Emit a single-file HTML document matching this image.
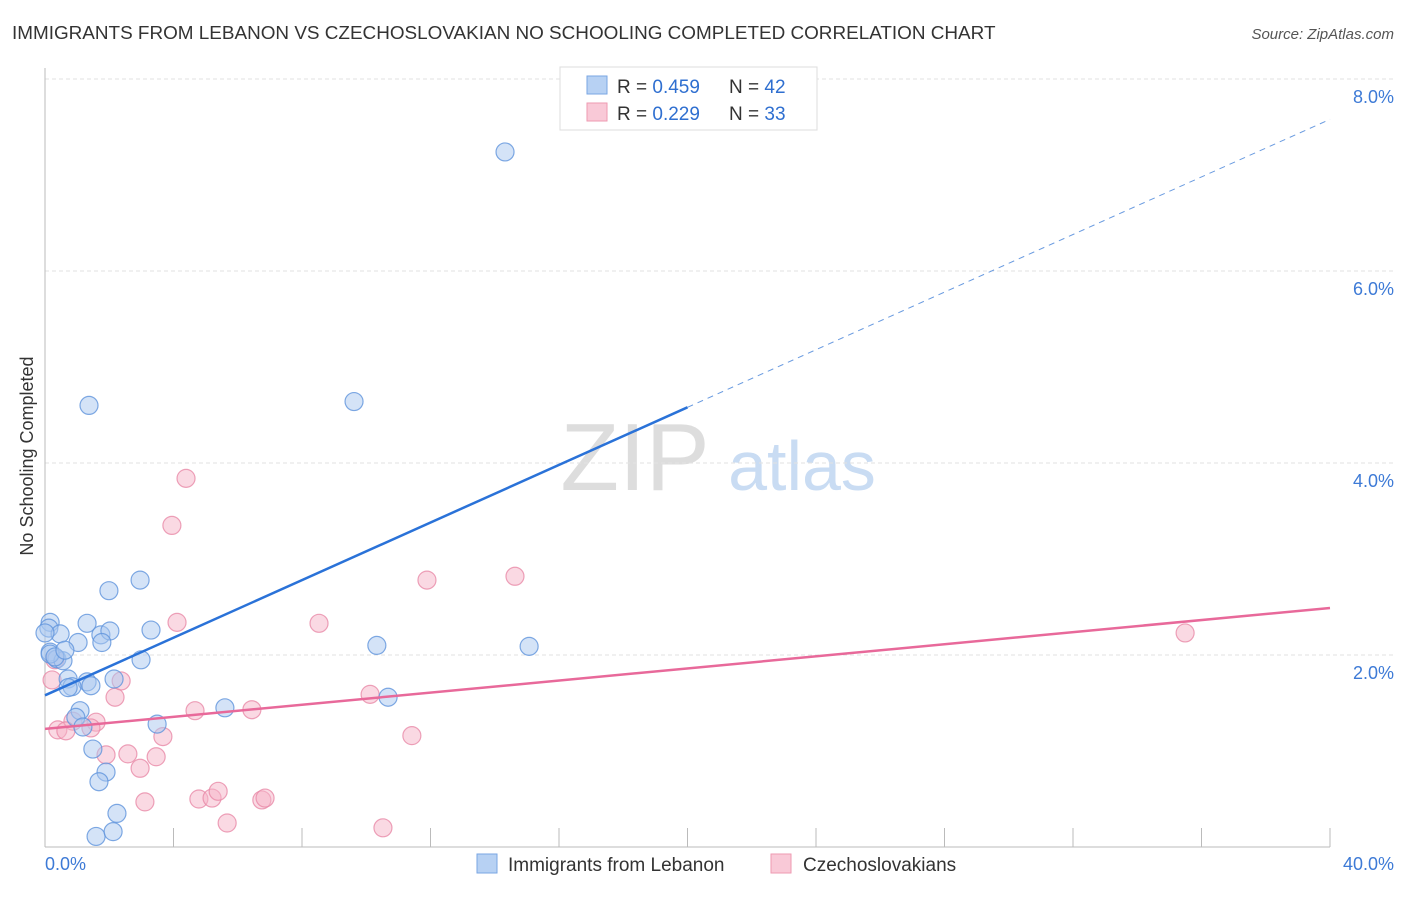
<!DOCTYPE html>
<html><head><meta charset="utf-8"><style>
body{margin:0;background:#fff;font-family:"Liberation Sans",sans-serif;}
svg text{font-family:"Liberation Sans",sans-serif;}
</style></head><body>
<svg id="chart" width="1406" height="892">
<text x="12" y="39" font-size="18.9" fill="#333">IMMIGRANTS FROM LEBANON VS CZECHOSLOVAKIAN NO SCHOOLING COMPLETED CORRELATION CHART</text>
<text x="1394" y="39" font-size="15" fill="#555" font-style="italic" text-anchor="end">Source: ZipAtlas.com</text>
<text x="635" y="490" font-size="96" fill="#ddd" font-family="Liberation Serif" text-anchor="middle">ZIP</text>
<text x="802" y="490" font-size="70" fill="#c9dcf3" text-anchor="middle">atlas</text>
<g id="grid"></g>
<line x1="45" y1="68" x2="45" y2="847" stroke="#bbb"/>
<line x1="45" y1="847" x2="1330" y2="847" stroke="#bbb"/>
<text x="33" y="456" font-size="18" fill="#333" text-anchor="middle" transform="rotate(-90 33 456)">No Schooling Completed</text>
<text x="45" y="870" font-size="18" fill="#3d7ad6">0.0%</text>
<text x="1394" y="870" font-size="18" fill="#3d7ad6" text-anchor="end">40.0%</text>
<g id="marks"></g>
<g>
<rect x="560" y="67" width="257" height="63" fill="#fff" stroke="#ddd"/>
<rect x="587" y="76" width="20" height="18" fill="#b7d1f3" stroke="#7aa6e3"/>
<text x="617" y="93" font-size="19" fill="#333">R = <tspan fill="#2f6fd0">0.459</tspan></text>
<text x="729" y="93" font-size="19" fill="#333">N = <tspan fill="#2f6fd0">42</tspan></text>
<rect x="587" y="103" width="20" height="18" fill="#f9c9d7" stroke="#ee9ab2"/>
<text x="617" y="120" font-size="19" fill="#333">R = <tspan fill="#2f6fd0">0.229</tspan></text>
<text x="729" y="120" font-size="19" fill="#333">N = <tspan fill="#2f6fd0">33</tspan></text>
</g>
<g>
<rect x="477" y="854" width="20" height="19" fill="#b7d1f3" stroke="#7aa6e3"/>
<text x="508" y="871" font-size="19" fill="#333">Immigrants from Lebanon</text>
<rect x="771" y="854" width="20" height="19" fill="#f9c9d7" stroke="#ee9ab2"/>
<text x="803" y="871" font-size="19" fill="#333">Czechoslovakians</text>
</g>
</svg>
<script>
const yTicks=[2,4,6,8];
const xTicks=[0,4,8,12,16,20,24,28,32,36,40];
const blueX=[14.32,1.37,9.62,1.99,2.96,0.16,1.31,0.12,0.47,1.74,2.02,3.30,1.03,1.77,10.33,15.07,0.16,0.37,2.99,0.56,0.72,1.31,0.84,1.43,2.15,5.60,10.68,1.09,0.96,1.18,3.49,1.49,1.90,1.68,2.24,1.59,2.12,0.16,0.31,0.72,0.0,0.62];
const blueY=[7.24,4.60,4.64,2.67,2.78,2.34,2.33,2.28,2.22,2.21,2.25,2.26,2.13,2.13,2.10,2.09,2.03,1.96,1.95,1.94,1.75,1.72,1.67,1.68,1.75,1.45,1.56,1.42,1.35,1.25,1.28,1.02,0.78,0.68,0.35,0.11,0.16,2.01,1.98,1.66,2.23,2.05];
const pinkX=[4.39,3.95,4.11,8.53,11.89,14.63,35.49,0.31,0.22,2.18,2.37,10.12,4.67,6.44,0.87,1.59,0.40,0.65,1.43,3.67,11.42,1.90,2.58,3.46,2.96,3.11,4.79,5.20,5.39,6.75,6.85,5.67,10.52];
const pinkY=[3.84,3.35,2.34,2.33,2.78,2.82,2.23,1.95,1.74,1.56,1.73,1.59,1.42,1.43,1.31,1.30,1.22,1.21,1.24,1.15,1.16,0.96,0.97,0.94,0.82,0.47,0.50,0.51,0.58,0.49,0.51,0.25,0.20];
const blueTrend=[1.58,7.58];
const pinkTrend=[1.23,2.49];
const NS='http://www.w3.org/2000/svg';
const sx=v=>45+v/40*1285;
const sy=v=>847-v*96;
function mk(tag,attrs,parent){const e=document.createElementNS(NS,tag);for(const k in attrs)e.setAttribute(k,attrs[k]);parent.appendChild(e);return e;}
const grid=document.getElementById('grid');
const marks=document.getElementById('marks');
yTicks.forEach(t=>{
  const l=mk('line',{x1:45,x2:1394,y1:sy(t),y2:sy(t),stroke:'#e2e2e2','stroke-dasharray':'4,3'},grid);
  
  
  const tx=mk('text',{x:1394,y:sy(t)+24,'font-size':18,fill:'#3d7ad6','text-anchor':'end'},grid);
  tx.textContent=t.toFixed(1)+'%';
  
  
});
xTicks.forEach(t=>{
  const l=mk('line',{x1:sx(t),x2:sx(t),y1:828,y2:847,stroke:'#bbb'},grid);
  
  
});
function pts(X,Y,fill,stroke,name){
  X.forEach((x,i)=>{
    const c=mk('circle',{cx:sx(x),cy:sy(Y[i]),r:9,fill:fill,'fill-opacity':0.5,stroke:stroke,'stroke-opacity':0.8,'stroke-width':1.2},marks);
    
    
  });
}
pts(pinkX,pinkY,'#f6b3c7','#e98aa8','point-czechoslovakians');
pts(blueX,blueY,'#a9c8f0','#5f93dc','point-lebanon');
const bm=blueTrend[0]+(blueTrend[1]-blueTrend[0])*0.5;
const b1=mk('line',{x1:sx(0),y1:sy(blueTrend[0]),x2:sx(20),y2:sy(bm),stroke:'#2a72d8','stroke-width':2.5},marks);


const b2=mk('line',{x1:sx(20),y1:sy(bm),x2:sx(40),y2:sy(blueTrend[1]),stroke:'#6a9be0','stroke-width':1,'stroke-dasharray':'6,5'},marks);


const p1=mk('line',{x1:sx(0),y1:sy(pinkTrend[0]),x2:sx(40),y2:sy(pinkTrend[1]),stroke:'#e8699a','stroke-width':2.5},marks);


</script>
</body></html>
